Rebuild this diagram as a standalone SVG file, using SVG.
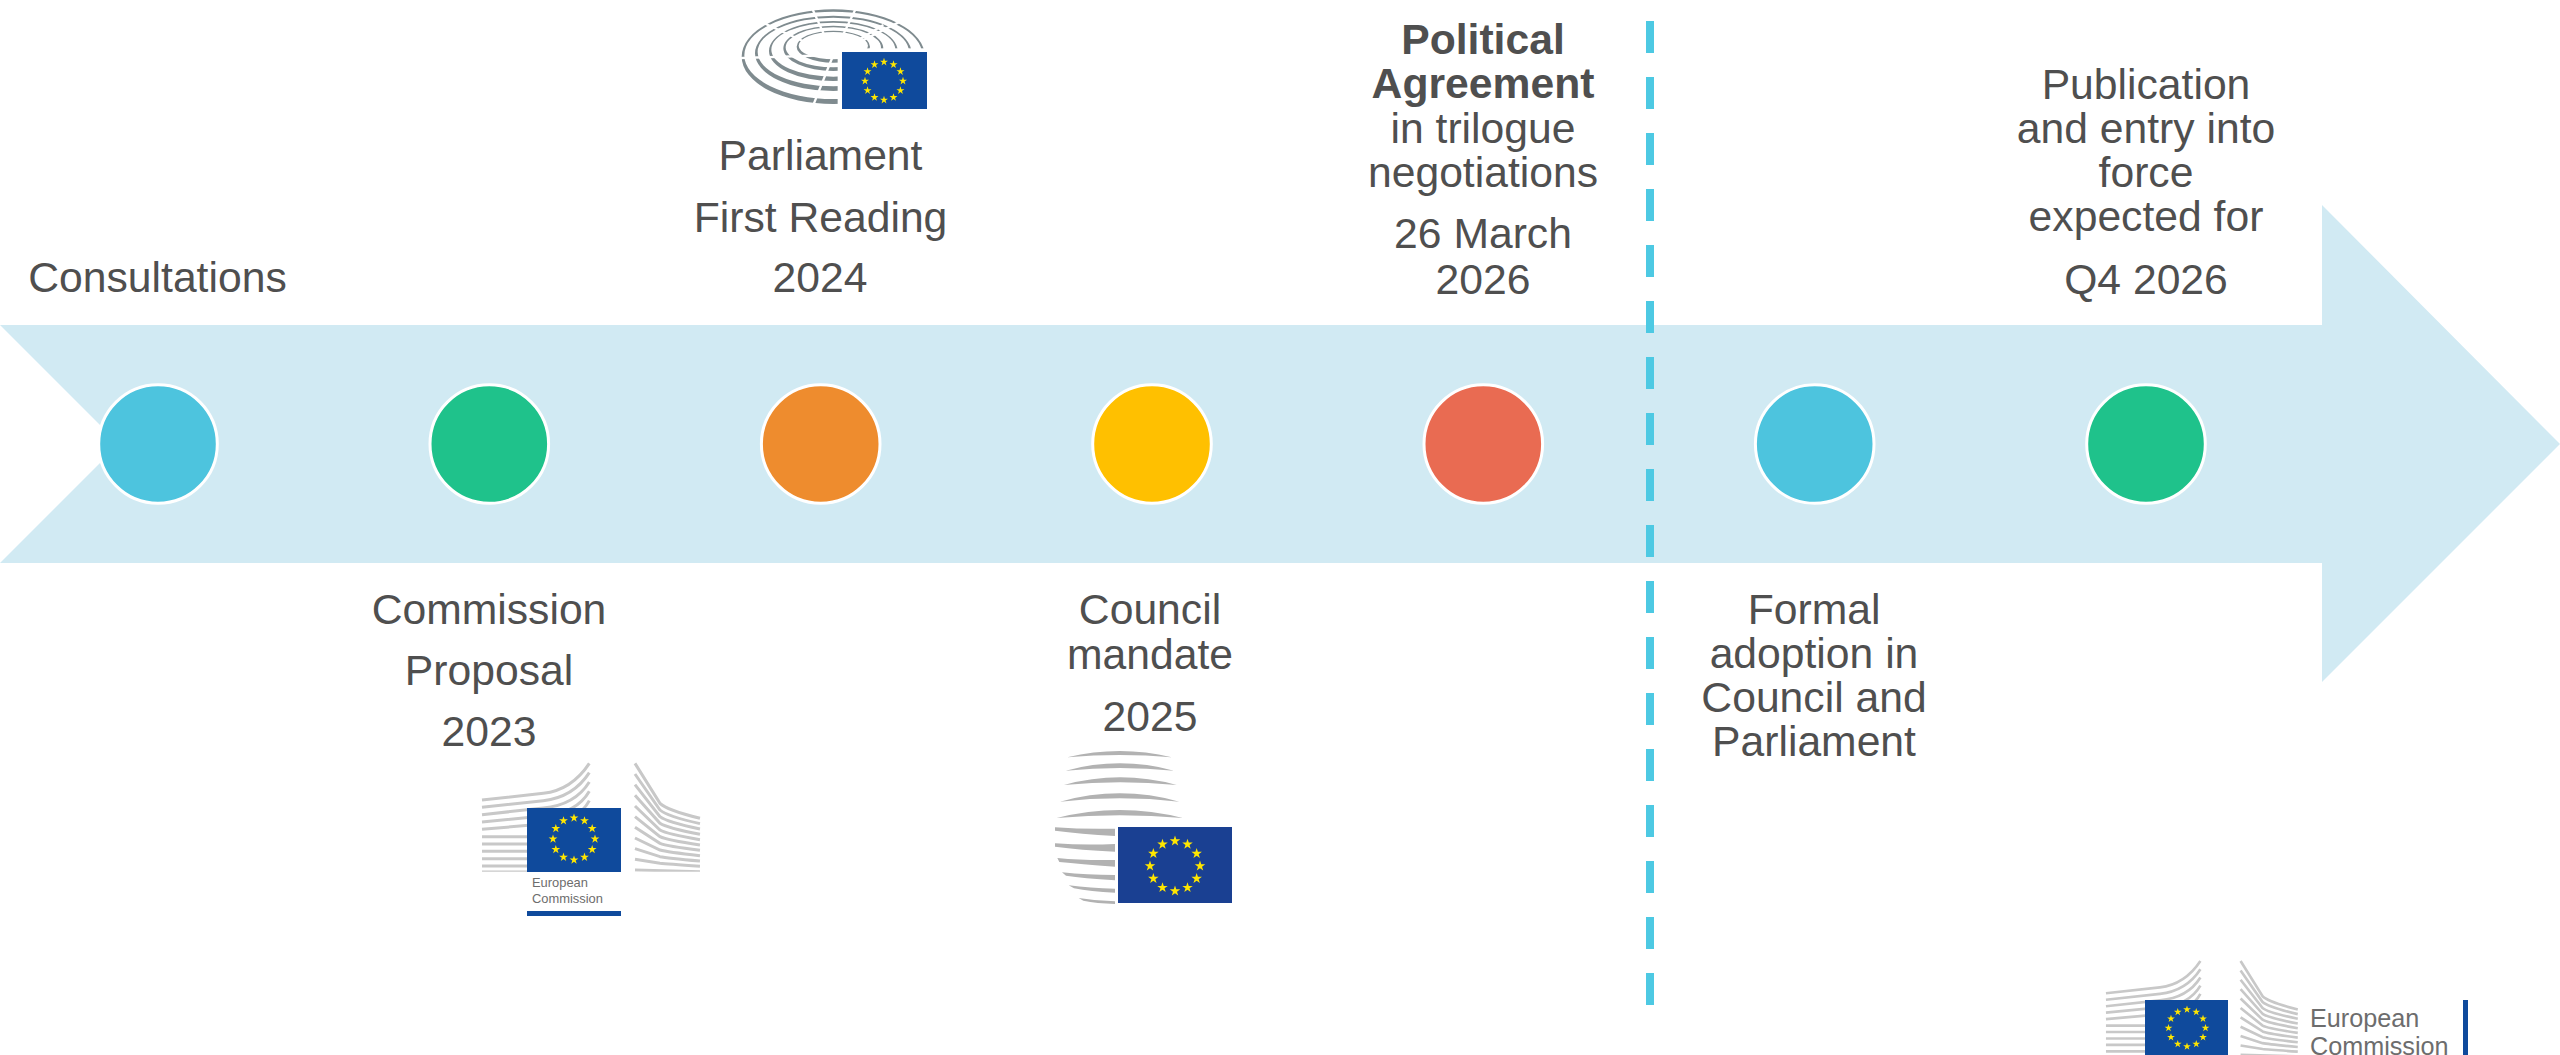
<svg xmlns="http://www.w3.org/2000/svg" width="2560" height="1055" viewBox="0 0 2560 1055">
<style>
text{font-family:"Liberation Sans",Arial,sans-serif;font-size:42.67px;fill:#4f4f4f;text-anchor:middle}
.b{font-weight:bold}
.dot{stroke:#fff;stroke-width:3}
.logo{font-size:12.9px;fill:#6d6d6d;text-anchor:start}
.logob{font-size:25.2px;fill:#6d6d6d;text-anchor:start}
.wing{fill:none;stroke:#c8c8c8;stroke-width:9}
.arc{fill:#b2b2b2}
.ring{fill:#7f8b8f;fill-rule:evenodd}
.gap{stroke:#fff;stroke-width:7;fill:none}
</style>
<defs>
<polygon id="star" points="0,-22 5,-7 21,-7 8.1,2.6 12.9,17.8 0,8.5 -12.9,17.8 -8.1,2.6 -21,-7 -5,-7" fill="#ffe600"/>
<g id="stars">
<use href="#star" x="0" y="-100"/><use href="#star" x="50" y="-86.6"/><use href="#star" x="86.6" y="-50"/><use href="#star" x="100" y="0"/><use href="#star" x="86.6" y="50"/><use href="#star" x="50" y="86.6"/><use href="#star" x="0" y="100"/><use href="#star" x="-50" y="86.6"/><use href="#star" x="-86.6" y="50"/><use href="#star" x="-100" y="0"/><use href="#star" x="-86.6" y="-50"/><use href="#star" x="-50" y="-86.6"/>
</g>
<clipPath id="wingClip"><rect x="60" y="30" width="670" height="335"/></clipPath>
<g id="wings" class="wing" clip-path="url(#wingClip)">
<path d="M66 150L250 130Q335 120 388 40"/><path d="M66 172L250 152Q340 142 388 68"/><path d="M66 194L250 174Q345 165 388 96"/><path d="M66 216L250 198Q350 190 388 124"/><path d="M66 238L250 222Q355 215 388 152"/><path d="M66 260H210"/><path d="M66 282H210"/><path d="M66 304H210"/><path d="M66 326H210"/><path d="M66 348H210"/><path d="M66 366H210"/>
<path d="M525 40L600 160Q620 180 720 205"/><path d="M525 72L600 180Q620 198 720 221"/><path d="M525 104L600 200Q620 216 720 237"/><path d="M525 136L600 220Q620 234 720 253"/><path d="M525 168L600 240Q620 252 720 269"/><path d="M525 200L600 260Q620 270 720 285"/><path d="M525 232L600 280Q620 288 720 301"/><path d="M525 264L600 300Q620 306 720 317"/><path d="M525 296L600 320Q620 324 720 333"/><path d="M525 328L600 340Q620 342 720 349"/><path d="M525 360L720 365"/>
</g>
</defs>
<rect width="2560" height="1055" fill="#fff"/>
<polygon id="band" points="0,325 2322,325 2322,205 2560,444 2322,682 2322,563 0,563 119,444" fill="#d1eaf3"/>
<g id="connectors"><line x1="1650" y1="21" x2="1650" y2="1008" stroke="#4dc9e3" stroke-width="8" stroke-dasharray="32 24"/></g>

<g id="node-consultations"><circle class="dot" cx="158" cy="444" r="59.3" fill="#4dc4de"/><text x="157.500" y="292">Consultations</text></g>

<g id="node-commission"><circle class="dot" cx="489.300" cy="444" r="59.3" fill="#1fc28b"/>
<text x="489" y="624">Commission</text><text x="489" y="685">Proposal</text><text x="489" y="746">2023</text>
<use href="#wings" transform="translate(460 750) scale(.3333)"/>
<rect x="527" y="808" width="94" height="64" fill="#0f4a9c"/><use href="#stars" transform="translate(574 839) scale(.21)"/>
<text class="logo" x="532" y="887">European</text><text class="logo" x="532" y="903">Commission</text>
<rect x="527" y="911" width="94" height="5" fill="#0f4a9c"/></g>

<g id="node-parliament"><circle class="dot" cx="820.700" cy="444" r="59.3" fill="#ee8c2e"/>
<text x="820.500" y="170">Parliament</text><text x="820.500" y="232">First Reading</text><text x="820" y="292">2024</text>
<g transform="translate(700 0) scale(.3333)">
<path class="ring" d="M125 170a275 142 0 1 0 550 0a275 142 0 1 0 -550 0ZM133 166a267 131 0 1 0 534 0a267 131 0 1 0 -534 0Z"/>
<path class="ring" d="M165 160a235 113 0 1 0 470 0a235 113 0 1 0 -470 0ZM173 156a227 103 0 1 0 454 0a227 103 0 1 0 -454 0Z"/>
<path class="ring" d="M207 153a193 90 0 1 0 386 0a193 90 0 1 0 -386 0ZM214 149a186 81 0 1 0 372 0a186 81 0 1 0 -372 0Z"/>
<path class="ring" d="M250 145a150 68 0 1 0 300 0a150 68 0 1 0 -300 0ZM257 142a143 60 0 1 0 286 0a143 60 0 1 0 -286 0Z"/>
<path class="ring" d="M290 140a110 48 0 1 0 220 0a110 48 0 1 0 -220 0ZM296 137a104 41 0 1 0 208 0a104 41 0 1 0 -208 0Z"/>
<rect x="413" y="145" width="300" height="200" fill="#fff"/>
<path class="gap" d="M400 165L325 0M400 165L480 0M400 165L650 40M400 165L150 50M400 165L90 175M400 165L330 340M400 165L550 75"/>
</g>
<rect x="842" y="52" width="85" height="57" fill="#0f4a9c"/><use href="#stars" transform="translate(884 81) scale(.19)"/></g>

<g id="node-council"><circle class="dot" cx="1152" cy="444" r="59.3" fill="#ffc000"/>
<text x="1150" y="624">Council</text><text x="1150" y="669">mandate</text><text x="1150" y="731">2025</text>
<g class="arc" transform="translate(1040 740) scale(.3333)">
<path d="M82 52Q240 14 395 52Q240 38 82 52Z"/><path d="M77 92Q240 48 402 92Q240 76 77 92Z"/><path d="M72 135Q240 89 410 135Q240 119 72 135Z"/><path d="M60 185Q240 135 418 185Q240 165 60 185Z"/><path d="M50 234Q240 186 428 234Q240 218 50 234Z"/>
<path d="M45 262Q130 268 225 266V288Q120 282 45 272Z"/><path d="M45 310Q130 316 225 312V335Q120 330 45 320Z"/><path d="M52 354Q130 362 225 360V380Q120 372 58 366Z"/><path d="M66 397Q140 405 225 405V421Q130 415 78 407Z"/><path d="M86 436Q150 445 225 446V458Q150 455 102 445Z"/><path d="M116 474Q170 483 225 484V492Q170 490 130 482Z"/>
</g>
<rect x="1118" y="827" width="114" height="76" fill="#1a4092"/><use href="#stars" transform="translate(1175 866) scale(.25)"/></g>

<g id="node-agreement"><circle class="dot" cx="1483.300" cy="444" r="59.3" fill="#e96b52"/>
<text class="b" x="1483" y="53.500">Political</text><text class="b" x="1483" y="98">Agreement</text><text x="1483" y="143">in trilogue</text><text x="1483" y="187">negotiations</text><text x="1483" y="248">26 March</text><text x="1483" y="294">2026</text></g>

<g id="node-adoption"><circle class="dot" cx="1814.700" cy="444" r="59.3" fill="#4dc4de"/>
<text x="1814" y="623.500">Formal</text><text x="1814" y="667.500">adoption in</text><text x="1814" y="711.500">Council and</text><text x="1814" y="755.500">Parliament</text></g>

<g id="node-publication"><circle class="dot" cx="2146" cy="444" r="59.3" fill="#1fc28b"/>
<text x="2146" y="99">Publication</text><text x="2146" y="143">and entry into</text><text x="2146" y="187">force</text><text x="2146" y="231">expected for</text><text x="2146" y="294">Q4 2026</text></g>

<g id="logo-commission">
<use href="#wings" transform="translate(2086.6 949.3) scale(.2933)"/>
<rect x="2145" y="1000" width="83" height="55" fill="#0f4a9c"/><use href="#stars" transform="translate(2187 1028) scale(.185)"/>
<text class="logob" x="2310" y="1027">European</text><text class="logob" x="2310" y="1055">Commission</text>
<rect x="2463" y="1000" width="5" height="55" fill="#0f4a9c"/></g>
</svg>
